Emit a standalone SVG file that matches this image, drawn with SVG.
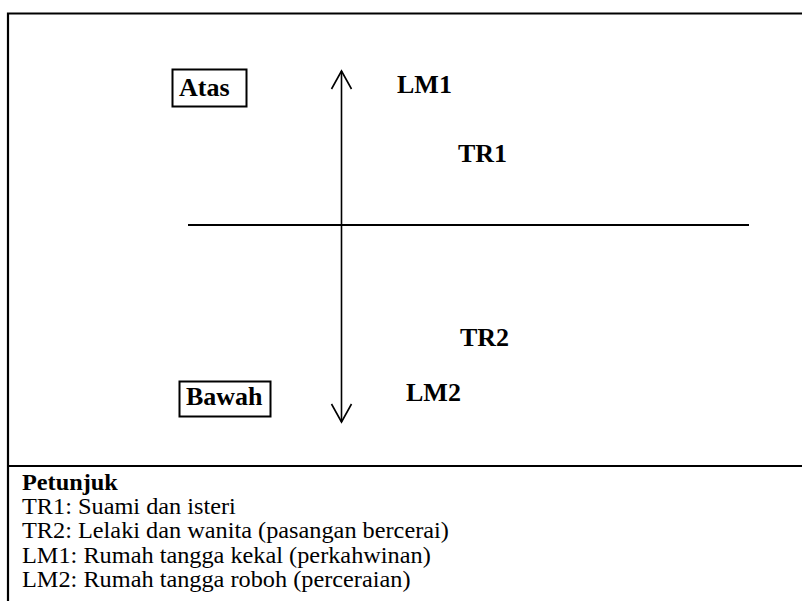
<svg xmlns="http://www.w3.org/2000/svg" width="802" height="601" viewBox="0 0 802 601">
<style>
.frame{stroke:#000;stroke-width:2.2;fill:none}
.ln{stroke:#000;fill:none}
.box{stroke:#000;stroke-width:2;fill:#fff}
text{font-family:'Liberation Serif','DejaVu Serif',serif;fill:#000}
.lbl{font-weight:bold;font-size:26px}
.leg{font-size:22.5px}
.legb{font-size:22.5px;font-weight:bold}
</style>
<rect width="802" height="601" fill="#fff"/>
<g id="frame">
<path class="frame" d="M8 601 V13.5 H802"/>
<line class="frame" x1="8" y1="466" x2="802" y2="466"/>
</g>
<g id="connectors">
<line class="ln" stroke-width="2.2" x1="188" y1="225" x2="749" y2="225"/>
<line class="ln" stroke-width="1.6" x1="341.5" y1="71" x2="341.5" y2="422"/>
<path class="ln" stroke-width="1.6" d="M331.5 89 L341.5 71 L351.5 89"/>
<path class="ln" stroke-width="1.6" d="M331.5 404 L341.5 422 L351.5 404"/>
</g>
<g id="atas">
<rect class="box" x="172.5" y="69.5" width="74" height="37"/>
<text class="lbl" x="179" y="96">Atas</text>
</g>
<g id="bawah">
<rect class="box" x="179.5" y="381.5" width="91" height="35"/>
<text class="lbl" x="186" y="405">Bawah</text>
</g>
<g id="lm1"><text class="lbl" x="397" y="93">LM1</text></g>
<g id="tr1"><text class="lbl" x="458" y="162">TR1</text></g>
<g id="tr2"><text class="lbl" x="460" y="346">TR2</text></g>
<g id="lm2"><text class="lbl" x="406" y="401">LM2</text></g>
<g id="legend" transform="translate(22,0) scale(1.08,1)">
<text class="legb" x="0" y="490">Petunjuk</text>
<text class="leg" x="0" y="514">TR1: Suami dan isteri</text>
<text class="leg" x="0" y="538.5">TR2: Lelaki dan wanita (pasangan bercerai)</text>
<text class="leg" x="0" y="563">LM1: Rumah tangga kekal (perkahwinan)</text>
<text class="leg" x="0" y="587.5">LM2: Rumah tangga roboh (perceraian)</text>
</g>
</svg>
